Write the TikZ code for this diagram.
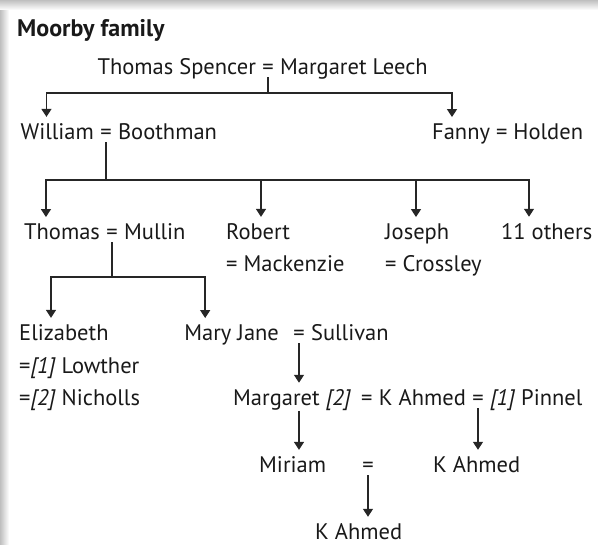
\documentclass[tikz,border=0pt]{standalone}
\usepackage{fontspec}
\setmainfont{PT Sans}
\usetikzlibrary{arrows.meta,positioning}
\tikzset{
    %Define standard arrow tip
    >={Triangle[length=8pt,width=10pt]},
    %Define style for names
    nm/.style={
           inner xsep=0pt,
           inner ysep=7pt,
           text=black!90,
           font=\fontsize{22.5}{27}\selectfont},
    %Define style for marriage signs
    wed/.style={
           nm,
           inner ysep=2pt},
    % Define arrow style
    pil/.style={
           ->,
           draw=black!85,
           line width=1.4pt},
    % Define style for plain lines
    stem/.style={
           draw=black!85,
           line width=1.4pt}
}
\begin{document}
\begin{tikzpicture}[x=1pt, y=-1pt, node distance=6pt]
  \useasboundingbox (0,0) rectangle (598,545);
  % shadow of the frame
  \shade[left color=black!25, right color=white] (0,0) rectangle (9,545);
  \shade[top color=black!25, bottom color=white] (0,0) rectangle (598,10);
  \node[nm, anchor=base west, font=\fontsize{24}{28}\selectfont\bfseries] (title) at (17,37) {Moorby family};
  % first generation
  \node[wed, anchor=base] (wedA) at (268,75) {=};
  \node[nm, base left=of wedA] (spencer) {Thomas Spencer};
  \node[nm, base right=of wedA] (leech) {Margaret Leech};
  % second generation
  \node[wed, anchor=base] (wedB) at (106,140) {=};
  \node[nm, base left=of wedB] (william) {William};
  \node[nm, base right=of wedB] (boothman) {Boothman};
  \node[nm, anchor=base west] (fanny) at (432,140) {Fanny = Holden};
  % third generation
  \node[wed, anchor=base] (wedC) at (112,240) {=};
  \node[nm, base left=of wedC] (thomas) {Thomas};
  \node[nm, base right=of wedC] (mullin) {Mullin};
  \node[nm, anchor=base west] (robert) at (226,240) {Robert};
  \node[nm, anchor=base west] (mackenzie) at (226,272) {= Mackenzie};
  \node[nm, anchor=base west] (joseph) at (385,240) {Joseph};
  \node[nm, anchor=base west] (crossley) at (385,272) {= Crossley};
  \node[nm, anchor=base west] (others) at (501,240) {11 others};
  % fourth generation
  \node[nm, anchor=base west] (elizabeth) at (19,341) {Elizabeth};
  \node[nm, anchor=base west] (lowther) at (19,374) {=\textit{[1]} Lowther};
  \node[nm, anchor=base west] (nicholls) at (19,406) {=\textit{[2]} Nicholls};
  \node[wed, anchor=base] (wedD) at (299,341) {=};
  \node[nm, base left=14pt of wedD] (maryjane) {Mary Jane};
  \node[nm, base right=of wedD] (sullivan) {Sullivan};
  % fifth generation
  \node[nm, anchor=base west] (margaret) at (233,406) {Margaret \textit{[2]}};
  \node[wed, anchor=base] (wedF) at (478,406) {=};
  \node[nm, base left=of wedF] (ahmedA) {K Ahmed};
  \node[wed, base left=of ahmedA] (wedE) {=};
  \node[nm, base right=of wedF] (pinnel) {\textit{[1]} Pinnel};
  % sixth and seventh generation
  \node[nm, anchor=base west] (miriam) at (259,473) {Miriam};
  \node[wed, anchor=base] (wedG) at (368,473) {=};
  \node[nm, anchor=base west] (ahmedB) at (433,473) {K Ahmed};
  \node[nm, anchor=base west] (ahmedC) at (315,540) {K Ahmed};
  % lines of descent
  \draw[stem] (wedA.south) -- ++(0,16) coordinate (busA);
  \draw[pil] (busA) -| ([xshift=26pt]william.north west);
  \draw[pil] (busA) -| ([xshift=20pt]fanny.north west);
  \draw[stem] (wedB.south) -- ++(0,38) coordinate (busB);
  \foreach \kid/\dx in {thomas/22, robert/35, joseph/31, others/28}
    \draw[pil] (busB) -| ([xshift=\dx pt]\kid.north west);
  \draw[stem] (wedC.south) -- ++(0,35) coordinate (busC);
  \draw[pil] (busC) -| ([xshift=32pt]elizabeth.north west);
  \draw[pil] (busC) -| ([xshift=21pt]maryjane.north west);
  \draw[pil] (wedD.south) -- (wedD.south |- margaret.north);
  \draw[pil] (margaret.base -| wedD) ++(0,5) -- (miriam.north -| wedD);
  \draw[pil] (wedF.south) -- (wedF.south |- ahmedB.north);
  \draw[pil] (wedG.south) -- (wedG.south |- ahmedC.north);
\end{tikzpicture}
\end{document}
